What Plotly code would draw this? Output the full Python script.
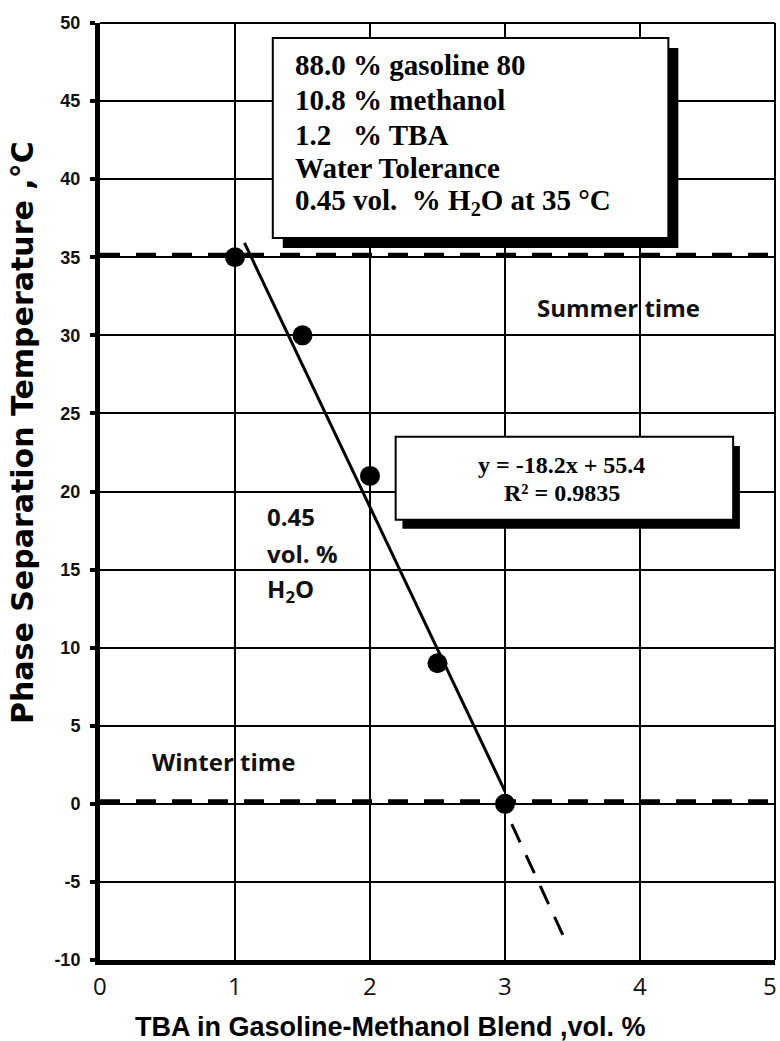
import plotly.graph_objects as go

# Measured phase-separation temperatures
tba_vol = [1.0, 1.5, 2.0, 2.5, 3.0]
sep_temp = [35, 30, 21, 9, 0]

# Linear fit reported on the chart
slope = -18.2
intercept = 55.4
fit_x = [1.07, 3.0]
fit_y = [slope * x + intercept for x in fit_x]

# Extrapolated branch below 0 °C
ext_x = [3.05, 3.45]
ext_y = [-1.3, -8.8]

# Reference temperatures
summer_temp = 35
winter_temp = 0

x_ticks = [0, 1, 2, 3, 4, 5]
y_ticks = list(range(-10, 55, 5))
y_tick_text = [str(v) for v in y_ticks]  # plain hyphen for negatives

blend_lines = [
    "88.0 % gasoline 80",
    "10.8 % methanol",
    "1.2 &nbsp; % TBA",
    "Water Tolerance",
    "0.45 vol. &nbsp;% H<sub>2</sub>O at 35 °C",
]
fit_lines = ["y = -18.2x + 55.4", "R² = 0.9835"]
water_lines = ["0.45", "vol. %", "H<sub>2</sub>O"]

fig = go.Figure()

# Dashed reference lines (summer / winter)
for t in (summer_temp, winter_temp):
    fig.add_trace(go.Scatter(
        x=[0, 5], y=[t + 0.15, t + 0.15], mode="lines",
        line=dict(color="black", width=4.5, dash="20px,16px"),
        hoverinfo="skip", showlegend=False,
    ))

fig.add_trace(go.Scatter(
    x=fit_x, y=fit_y, mode="lines",
    line=dict(color="black", width=3), showlegend=False,
))
fig.add_trace(go.Scatter(
    x=ext_x, y=ext_y, mode="lines",
    line=dict(color="black", width=3, dash="20px,14px"), showlegend=False,
))
fig.add_trace(go.Scatter(
    x=tba_vol, y=sep_temp, mode="markers",
    marker=dict(color="black", size=20), showlegend=False,
))

shapes = []
# Text boxes with drop shadows
for (x0, x1, y0, y1, dx, dy) in [
    (1.28, 4.21, 36.24, 49.04, 0.074, 0.64),
    (2.19, 4.69, 18.19, 23.5, 0.05, 0.58),
]:
    shapes.append(dict(type="rect", xref="x", yref="y",
                       x0=x0 + dx, x1=x1 + dx, y0=y0 - dy, y1=y1 - dy,
                       fillcolor="black", line=dict(width=0), layer="above"))
    shapes.append(dict(type="rect", xref="x", yref="y",
                       x0=x0, x1=x1, y0=y0, y1=y1,
                       fillcolor="white", line=dict(color="black", width=2),
                       layer="above"))
# Thin top and right frame
shapes.append(dict(type="line", xref="paper", yref="paper", x0=0, x1=1, y0=1, y1=1,
                   line=dict(color="black", width=2)))
shapes.append(dict(type="line", xref="paper", yref="paper", x0=1, x1=1, y0=0, y1=1,
                   line=dict(color="black", width=2)))

annotations = []
serif = dict(family="Liberation Serif, Times New Roman, serif", color="black")
for txt, yy in zip(blend_lines, [47.31, 45.07, 42.83, 40.72, 38.54]):
    annotations.append(dict(x=1.43, y=yy, xref="x", yref="y", text=f"<b>{txt}</b>",
                            showarrow=False, xanchor="left", yanchor="middle",
                            font=dict(size=29, **serif)))
for txt, yy in zip(fit_lines, [21.7, 19.9]):
    annotations.append(dict(x=3.42, y=yy, xref="x", yref="y", text=f"<b>{txt}</b>",
                            showarrow=False, xanchor="center", yanchor="middle",
                            font=dict(size=24, **serif)))

sans = dict(family="Open Sans, sans-serif", color="#111111")
annotations.append(dict(x=3.84, y=31.8, xref="x", yref="y", text="<b>Summer time</b>",
                        showarrow=False, font=dict(size=24, **sans)))
annotations.append(dict(x=0.92, y=2.69, xref="x", yref="y", text="<b>Winter time</b>",
                        showarrow=False, font=dict(size=24, **sans)))
for txt, yy in zip(water_lines, [18.37, 16.0, 13.7]):
    annotations.append(dict(x=1.22, y=yy, xref="x", yref="y", text=f"<b>{txt}</b>",
                            showarrow=False, xanchor="left", yanchor="middle",
                            font=dict(size=24, **sans)))

# X tick labels (the last one is kept inside the page edge)
for v in x_ticks:
    last = v == x_ticks[-1]
    annotations.append(dict(x=v, y=-0.027, xref="x", yref="paper", text=str(v),
                            showarrow=False, xanchor="right" if last else "center",
                            xshift=4 if last else 0, yanchor="middle",
                            font=dict(family="Open Sans, sans-serif", size=24,
                                      color="#111111")))

# Axis titles
annotations.append(dict(x=0.43, y=-0.0715, xref="paper", yref="paper",
                        text="<b>TBA in Gasoline-Methanol Blend ,vol. %</b>",
                        showarrow=False, xanchor="center", yanchor="middle",
                        font=dict(family="Liberation Sans, Arial, sans-serif",
                                  size=27, color="black")))
annotations.append(dict(x=-0.1156, y=0.5635, xref="paper", yref="paper",
                        text="<b>Phase Separation Temperature ,°C</b>", textangle=-90,
                        showarrow=False, xanchor="center", yanchor="middle",
                        font=dict(family="DejaVu Sans, sans-serif",
                                  size=30, color="black")))

fig.update_layout(
    width=780, height=1041,
    margin=dict(l=100, r=5, t=23, b=81, autoexpand=False),
    plot_bgcolor="white", paper_bgcolor="white",
    shapes=shapes, annotations=annotations,
    showlegend=False,
)
fig.update_xaxes(
    range=[0, 5], tickvals=x_ticks, showticklabels=False,
    showgrid=True, gridcolor="black", gridwidth=1.5, automargin=False,
    zeroline=False, showline=True, linecolor="black", linewidth=5,
    ticks="",
)
fig.update_yaxes(
    range=[-10, 50], tickvals=y_ticks, ticktext=y_tick_text,
    showgrid=True, gridcolor="black", gridwidth=1.5, automargin=False,
    zeroline=False, showline=True, linecolor="black", linewidth=5,
    ticks="outside", ticklen=5, tickwidth=4, tickcolor="black",
    ticklabelstandoff=6,
    tickfont=dict(family="Liberation Sans, Arial, sans-serif", size=18,
                  color="#111111", weight="bold"),
)

fig.write_html("out.html")
